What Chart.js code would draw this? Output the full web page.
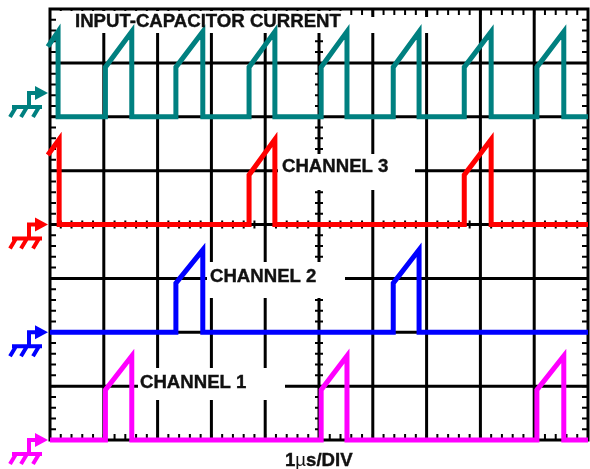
<!DOCTYPE html>
<html><head><meta charset="utf-8">
<script src="https://cdn.jsdelivr.net/npm/chart.js@4.4.1/dist/chart.umd.min.js"></script>
<style>html,body{margin:0;padding:0;background:#fff;}canvas{display:block}</style>
</head><body>
<canvas id="c" width="590" height="469"></canvas>
<script>
// ---- data (time in divisions, level in divisions) ----
const seriesNames = ['INPUT-CAPACITOR CURRENT', 'CHANNEL 3', 'CHANNEL 2', 'CHANNEL 1'];
const timeLabel = '1\u00b5s/DIV';

const inputTime  = [-0.04, 0.15, 0.15, 1.03, 1.03, 1.52, 1.52, 2.34, 2.34, 2.84, 2.84, 3.70, 3.70, 4.18, 4.18, 5.04, 5.04, 5.52, 5.52, 6.38, 6.38, 6.86, 6.86, 7.70, 7.70, 8.20, 8.20, 9.05, 9.05, 9.55, 9.55, 10];
const inputLevel = [7.30, 7.58, 6.00, 6.00, 6.92, 7.58, 6.00, 6.00, 6.92, 7.58, 6.00, 6.00, 6.92, 7.58, 6.00, 6.00, 6.92, 7.58, 6.00, 6.00, 6.92, 7.58, 6.00, 6.00, 6.92, 7.58, 6.00, 6.00, 6.92, 7.58, 6.00, 6.00];

const ch3Time  = [-0.04, 0.17, 0.17, 3.70, 3.70, 4.18, 4.18, 7.70, 7.70, 8.20, 8.20, 10];
const ch3Level = [5.29, 5.58, 4.00, 4.00, 4.92, 5.58, 4.00, 4.00, 4.92, 5.58, 4.00, 4.00];

const ch2Time  = [0, 2.34, 2.34, 2.84, 2.84, 6.38, 6.38, 6.86, 6.86, 10];
const ch2Level = [2.00, 2.00, 2.91, 3.53, 2.00, 2.00, 2.91, 3.53, 2.00, 2.00];

const ch1Time  = [0, 1.03, 1.03, 1.52, 1.52, 5.04, 5.04, 5.52, 5.52, 9.05, 9.05, 9.55, 9.55, 10];
const ch1Level = [0, 0, 0.93, 1.56, 0, 0, 0.93, 1.56, 0, 0, 0.93, 1.56, 0, 0];

const groundLevels = [6.44, 4.00, 2.00, 0.00];
const xDivs = 10, yDivs = 8;

// ---- styles ----
const colors = ['#008080', '#ff0000', '#0000ff', '#ff00ff'];
const FONT = 'bold 18.6px "Liberation Sans", Arial, sans-serif';

function pts(t, v) { return t.map((x, i) => ({x: x, y: v[i]})); }
const allSeries = [[inputTime, inputLevel], [ch3Time, ch3Level], [ch2Time, ch2Level], [ch1Time, ch1Level]];

const scopePlugin = {
  id: 'scope',
  beforeDatasetsDraw(chart) {
    const ctx = chart.ctx, xs = chart.scales.x, ys = chart.scales.y;
    const L = xs.getPixelForValue(0), R = xs.getPixelForValue(xDivs);
    const T = ys.getPixelForValue(yDivs), B = ys.getPixelForValue(0);
    ctx.save();
    ctx.strokeStyle = '#000';
    ctx.lineCap = 'butt';
    // grid lines
    ctx.lineWidth = 3;
    ctx.beginPath();
    for (let i = 1; i < xDivs; i++) { const x = xs.getPixelForValue(i); ctx.moveTo(x, T); ctx.lineTo(x, B); }
    for (let j = 1; j < yDivs; j++) { const y = ys.getPixelForValue(j); ctx.moveTo(L, y); ctx.lineTo(R, y); }
    ctx.stroke();
    // minor ticks
    ctx.lineWidth = 2;
    ctx.beginPath();
    const cx = xs.getPixelForValue(xDivs / 2), cy = ys.getPixelForValue(yDivs / 2);
    for (let k = 1; k < xDivs * 5; k++) {
      const x = xs.getPixelForValue(k / 5);
      ctx.moveTo(x, T); ctx.lineTo(x, T + 6);
      ctx.moveTo(x, B); ctx.lineTo(x, B - 6);
      ctx.moveTo(x, cy - 4); ctx.lineTo(x, cy + 4);
    }
    for (let k = 1; k < yDivs * 5; k++) {
      const y = ys.getPixelForValue(k / 5);
      ctx.moveTo(L, y); ctx.lineTo(L + 6, y);
      ctx.moveTo(R, y); ctx.lineTo(R - 6, y);
      ctx.moveTo(cx - 4, y); ctx.lineTo(cx + 4, y);
    }
    ctx.stroke();
    // label backgrounds
    ctx.fillStyle = '#fff';
    ctx.fillRect(56, T + 2, 289, 22);
    ctx.fillRect(345, T + 8, 105, 16);
    ctx.fillRect(278, 154, 137, 36);
    ctx.fillRect(207, 262, 138, 36);
    ctx.fillRect(138, 368, 147, 32);
    // frame
    ctx.lineWidth = 3;
    ctx.strokeRect(L, T, R - L, B - T);
    ctx.restore();
  },
  afterDatasetsDraw(chart) {
    const ctx = chart.ctx, xs = chart.scales.x, ys = chart.scales.y;
    const L = xs.getPixelForValue(0);
    ctx.save();
    // ground markers
    groundLevels.forEach((lv, i) => {
      const y = ys.getPixelForValue(lv), tip = L - 2;
      ctx.fillStyle = colors[i]; ctx.strokeStyle = colors[i];
      ctx.lineWidth = 4; ctx.lineCap = 'butt'; ctx.lineJoin = 'miter';
      ctx.beginPath();
      ctx.moveTo(tip, y); ctx.lineTo(tip - 13, y - 7); ctx.lineTo(tip - 13, y + 7); ctx.closePath();
      ctx.fill();
      ctx.beginPath();
      ctx.moveTo(tip - 21, y); ctx.lineTo(tip - 12, y);
      ctx.moveTo(tip - 19, y - 2); ctx.lineTo(tip - 19, y + 14);
      ctx.moveTo(tip - 36, y + 14); ctx.lineTo(tip - 6, y + 14);
      ctx.moveTo(tip - 32, y + 14); ctx.lineTo(tip - 38, y + 24);
      ctx.moveTo(tip - 21, y + 14); ctx.lineTo(tip - 27, y + 24);
      ctx.moveTo(tip - 9, y + 14); ctx.lineTo(tip - 15, y + 24);
      ctx.stroke();
    });
    // labels
    ctx.fillStyle = '#111';
    ctx.strokeStyle = '#111';
    ctx.lineWidth = 0.4;
    ctx.font = FONT;
    ctx.textBaseline = 'middle';
    ctx.textAlign = 'left';
    const lbl = [[seriesNames[0], 75, 22], [seriesNames[1], 282, 167], [seriesNames[2], 210, 277], [seriesNames[3], 140, 383]];
    lbl.forEach(l => { ctx.fillText(l[0], l[1], l[2]); ctx.strokeText(l[0], l[1], l[2]); });
    // time/div label
    let x = 285;
    const parts = [[timeLabel.slice(0, 1), FONT, true], [timeLabel.slice(1, 2), '18.6px "Liberation Sans", Arial, sans-serif', false], [timeLabel.slice(2), FONT, true]];
    parts.forEach(p => {
      ctx.font = p[1]; ctx.fillText(p[0], x, 461);
      if (p[2]) ctx.strokeText(p[0], x, 461);
      x += ctx.measureText(p[0]).width;
    });
    ctx.restore();
  }
};

new Chart(document.getElementById('c'), {
  type: 'line',
  data: {
    datasets: allSeries.map((s, i) => ({
      label: seriesNames[i],
      data: pts(s[0], s[1]),
      borderColor: colors[i],
      backgroundColor: colors[i],
      borderWidth: 5,
      pointRadius: 0,
      tension: 0,
      fill: false,
      borderJoinStyle: 'miter',
      borderCapStyle: 'butt',
      clip: false
    }))
  },
  options: {
    responsive: false,
    animation: false,
    devicePixelRatio: 1,
    layout: {padding: {left: 50, right: 2, top: 9, bottom: 29}},
    plugins: {legend: {display: false}, tooltip: {enabled: false}},
    scales: {
      x: {type: 'linear', min: 0, max: xDivs, display: false},
      y: {type: 'linear', min: 0, max: yDivs, display: false}
    }
  },
  plugins: [scopePlugin]
});
</script>
</body></html>
